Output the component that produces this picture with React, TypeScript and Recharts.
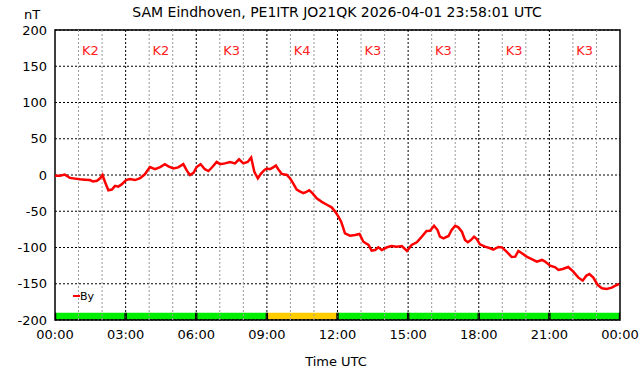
import React from "react"
import {
  LineChart,
  Line,
  XAxis,
  YAxis,
  CartesianGrid,
  ReferenceLine,
  ReferenceArea,
  ReferenceDot,
} from "recharts"

// minutes since 00:00 UTC
const minutes = [
  0, 13, 25, 38, 51, 64, 76, 89, 97, 107, 115, 121, 127, 136, 145, 153, 161, 170, 181, 191,
  204, 217, 229, 242, 255, 268, 280, 289, 302, 314, 327, 336, 344, 353, 361, 371, 382, 391,
  401, 412, 421, 433, 446, 459, 469, 480, 491, 500, 508, 517, 525, 534, 540, 548, 556, 563,
  569, 578, 591, 599, 607, 616, 625, 633, 642, 648, 656, 667, 680, 693, 705, 714, 722, 729,
  735, 739, 752, 765, 776, 786, 799, 807, 816, 824, 833, 846, 858, 871, 884, 897, 909, 922,
  935, 947, 956, 966, 975, 981, 990, 1003, 1011, 1020, 1028, 1037, 1045, 1052, 1060, 1068,
  1075, 1083, 1096, 1109, 1117, 1130, 1139, 1151, 1164, 1173, 1181, 1190, 1202, 1215, 1228,
  1241, 1249, 1262, 1275, 1283, 1294, 1308, 1321, 1334, 1345, 1354, 1362, 1372, 1383, 1394,
  1406, 1419, 1432, 1438,
]

// By in nT
const byValues = [
  -1, -1, 0.5, -4, -5, -6, -6.5, -7, -9, -8, -4.5, 0, -9, -21, -20, -15, -16, -13, -7, -5.5,
  -7, -4.5, 1, 11, 8, 11, 15, 12, 9, 10.5, 15, 6, 0, 3, 11, 15, 8, 5.5,
  11, 18, 15, 16, 18, 16, 21.6, 16, 18, 24, 4.5, -4.5, 2, 7, 9, 8, 10.5, 13,
  8, 1.5, 0, -4.5, -11.5, -20, -23, -25, -23, -21, -25, -32, -37, -41, -44.6, -50.5, -57, -64,
  -73.5, -80.5, -83.7, -82.8, -81.4, -92, -96.5, -104.4, -103.5, -99.8, -103.5, -99.7, -98, -98.9, -98, -104.8, -96.5, -92.8,
  -85, -77.2, -76.8, -70, -75.9, -85, -87.4, -84.1, -75.9, -70, -72.2, -78.2, -89.7, -92.8, -89.7, -85,
  -88.3, -95.6, -98.9, -101.1, -103, -99.3, -99.8, -105.8, -113.1, -112.6, -104.8, -108, -112.6, -115.9, -119.5,
  -117.2, -119.5, -125, -127.4, -131, -129.7, -126.9, -133.3, -141.6, -145.7, -138.9, -136.6, -141.6, -151.7, -156.3,
  -157.2, -155.4, -151.7, -150.3,
]

const xTicks = [0, 180, 360, 540, 720, 900, 1080, 1260, 1440]
const xTickLabels = ["00:00", "03:00", "06:00", "09:00", "12:00", "15:00", "18:00", "21:00", "00:00"]
const yTicks = [-200, -150, -100, -50, 0, 50, 100, 150, 200]
const hourLines = Array.from({ length: 23 }, (_, i) => (i + 1) * 60)

const kLabels = ["K2", "K2", "K3", "K4", "K3", "K3", "K3", "K3"]
const kColors = ["#00ee00", "#00ee00", "#00ee00", "#ffcc00", "#00ee00", "#00ee00", "#00ee00", "#00ee00"]

const data = minutes.map((t, i) => ({ t, by: byValues[i] }))

const font = "DejaVu Sans, sans-serif"

// colour block; black edges drawn inside its own area so neighbours cannot cover them
const kBlock = (fill: string) => (p: any) => (
  <g>
    <rect x={p.x} y={p.y} width={p.width} height={p.height} fill={fill} stroke="none" />
    <rect x={p.x} y={p.y} width={1.2} height={p.height} fill="#000" />
    <rect x={p.x + p.width - 1.2} y={p.y} width={1.2} height={p.height} fill="#000" />
    <line x1={p.x} x2={p.x + p.width} y1={p.y + p.height - 0.5} y2={p.y + p.height - 0.5} stroke="#000" strokeDasharray="2 2" />
  </g>
)

export default function App() {
  return (
    <div style={{ position: "absolute", left: 0, top: 0, width: 642, height: 376, background: "#fff", fontFamily: font }}>
      <LineChart width={642} height={376} data={data} margin={{ top: 30, right: 22, bottom: 26, left: 0 }}>
        {hourLines.map((h) => (
          <ReferenceLine
            key={h}
            x={h}
            stroke={h % 180 === 0 ? "#000" : "#999"}
            strokeDasharray="2 2"
            strokeWidth={1}
          />
        ))}
        <CartesianGrid vertical={false} stroke="#000" strokeDasharray="2 2" />
        {kColors.map((c, i) => (
          <ReferenceArea key={"b" + i} x1={i * 180} x2={(i + 1) * 180} y1={-200} y2={-190} shape={kBlock(c)} />
        ))}
        <ReferenceArea
          x1={0}
          x2={1440}
          y1={-200}
          y2={200}
          shape={(p: any) => (
            <rect x={p.x} y={p.y} width={p.width} height={p.height} fill="none" stroke="#000" strokeWidth={1.5} />
          )}
        />
        {kLabels.map((k, i) => (
          <ReferenceDot
            key={"k" + i}
            x={i * 180 + 90}
            y={172}
            r={0}
            label={{ value: k, position: "center", fill: "#ff2020", fontSize: 13, fontFamily: font }}
          />
        ))}
        <XAxis
          dataKey="t"
          type="number"
          domain={[0, 1440]}
          ticks={xTicks}
          tickFormatter={(v: number) => xTickLabels[xTicks.indexOf(v)]}
          axisLine={false}
          tickLine={false}
          tick={{ fill: "#000", fontSize: 13, fontFamily: font }}
          tickMargin={4}
          height={30}
          interval={0}
        />
        <YAxis
          type="number"
          domain={[-200, 200]}
          ticks={yTicks}
          axisLine={false}
          tickLine={false}
          tick={{ fill: "#000", fontSize: 13, fontFamily: font }}
          tickMargin={2}
          width={55}
          interval={0}
        />
        <Line type="linear" dataKey="by" stroke="#ff0000" strokeWidth={2.5} dot={false} isAnimationActive={false} />
      </LineChart>
      <svg width={642} height={376} style={{ position: "absolute", left: 0, top: 0, pointerEvents: "none" }}>
        <text x={337} y={17} textAnchor="middle" fontSize={14} fontFamily={font} fill="#000">
          SAM Eindhoven, PE1ITR JO21QK 2026-04-01 23:58:01 UTC
        </text>
        <text x={32} y={19} textAnchor="middle" fontSize={13} fontFamily={font} fill="#000">nT</text>
        <text x={336} y={366} textAnchor="middle" fontSize={13} fontFamily={font} fill="#000">Time UTC</text>
        <line x1={73} x2={80} y1={296} y2={296} stroke="#ff0000" strokeWidth={2} />
        <text x={80} y={300} fontSize={11} fontFamily={font} fill="#000">By</text>
      </svg>
    </div>
  )
}
